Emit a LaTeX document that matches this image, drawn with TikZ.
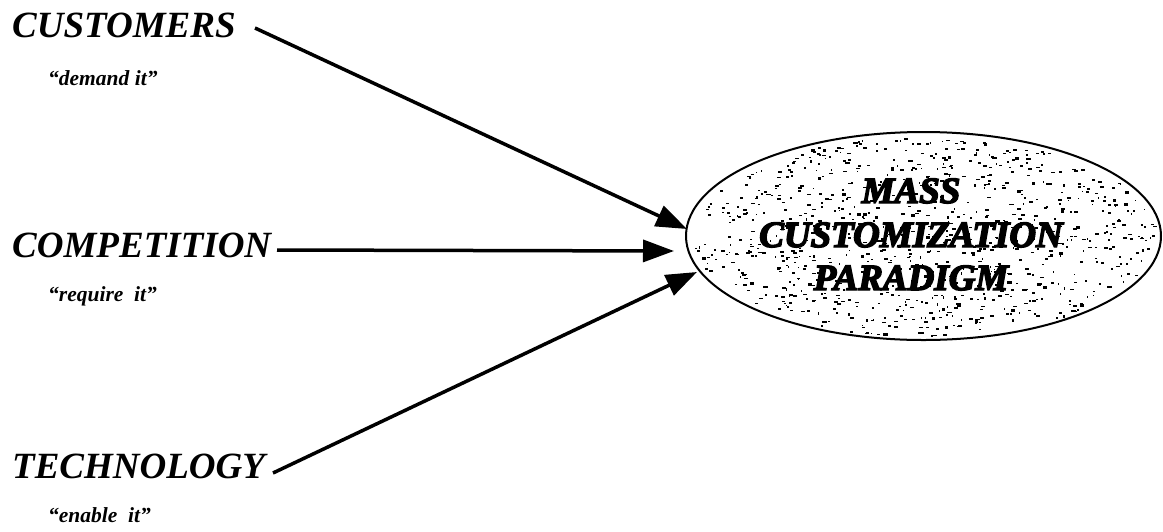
\documentclass[tikz,border=0pt]{standalone}
\usepackage{fontspec}
\setmainfont{Liberation Serif}
\newfontfamily\heavyfont[FakeBold=4]{Liberation Serif Bold Italic}
\usetikzlibrary{arrows.meta,shapes.geometric}
\tikzset{
  biglabel/.style={anchor=base west, inner sep=0pt, font=\fontsize{37}{42}\selectfont\bfseries\itshape},
  quotelabel/.style={anchor=base west, inner sep=0pt, font=\fontsize{21.5}{26}\selectfont\bfseries\itshape},
  ptext/.style={anchor=base, inner sep=0pt, font=\fontsize{37}{44}\selectfont\heavyfont},
  arr/.style={line width=3.5pt, -{Triangle[length=31pt,width=22pt]}},
  ell/.style={ellipse, draw, line width=2pt, minimum width=475pt, minimum height=208pt, inner sep=0pt}
}
\begin{document}
\begin{tikzpicture}[x=1pt,y=-1pt]
\useasboundingbox (0,0) rectangle (1163,531);
% ellipse
\node[ell] (mc) at (923.5,236) {};
\begin{scope}
  \clip (923.5,236) ellipse [x radius=236pt, y radius=103pt];
  \pgfmathsetseed{11}
  \foreach \i in {1,...,900} {
    \pgfmathsetmacro{\rr}{sqrt(rnd)}
    \pgfmathsetmacro{\tt}{360*rnd}
    \pgfmathsetmacro{\px}{923.5+232*\rr*cos(\tt)}
    \pgfmathsetmacro{\py}{236+100*\rr*sin(\tt)}
    \pgfmathsetmacro{\sw}{1+3.5*rnd}
    \pgfmathsetmacro{\sh}{1+1.5*rnd}
    \fill[black] (\px,\py) rectangle ++(\sw,\sh);
  }
\end{scope}
% ellipse text
\node[ptext] (mass) at (911,203) {MASS};
\node[ptext] (custz) at (911,247) {CUSTOMIZATION};
\node[ptext] (para) at (911,290) {PARADIGM};
% labels
\node[biglabel] (customers) at (12,37) {CUSTOMERS};
\node[quotelabel] (demand) at (48,85) {“demand it”};
\node[biglabel] (competition) at (12,257) {COMPETITION};
\node[quotelabel] (require) at (48,301) {“require\ \ it”};
\node[biglabel] (technology) at (12,478) {TECHNOLOGY};
\node[quotelabel] (enable) at (48,522) {“enable\ \ it”};
% arrow tips at the ellipse
\coordinate (t1) at (687,229);
\coordinate (t2) at (674,251);
\coordinate (t3) at (697,272);
\coordinate (s1) at (255,28);
\coordinate (s2) at (277,250);
\coordinate (s3) at (273,473);
\draw[arr] (s1) -- (t1);
\draw[arr] (s2) -- (t2);
\draw[arr] (s3) -- (t3);
\end{tikzpicture}
\end{document}
